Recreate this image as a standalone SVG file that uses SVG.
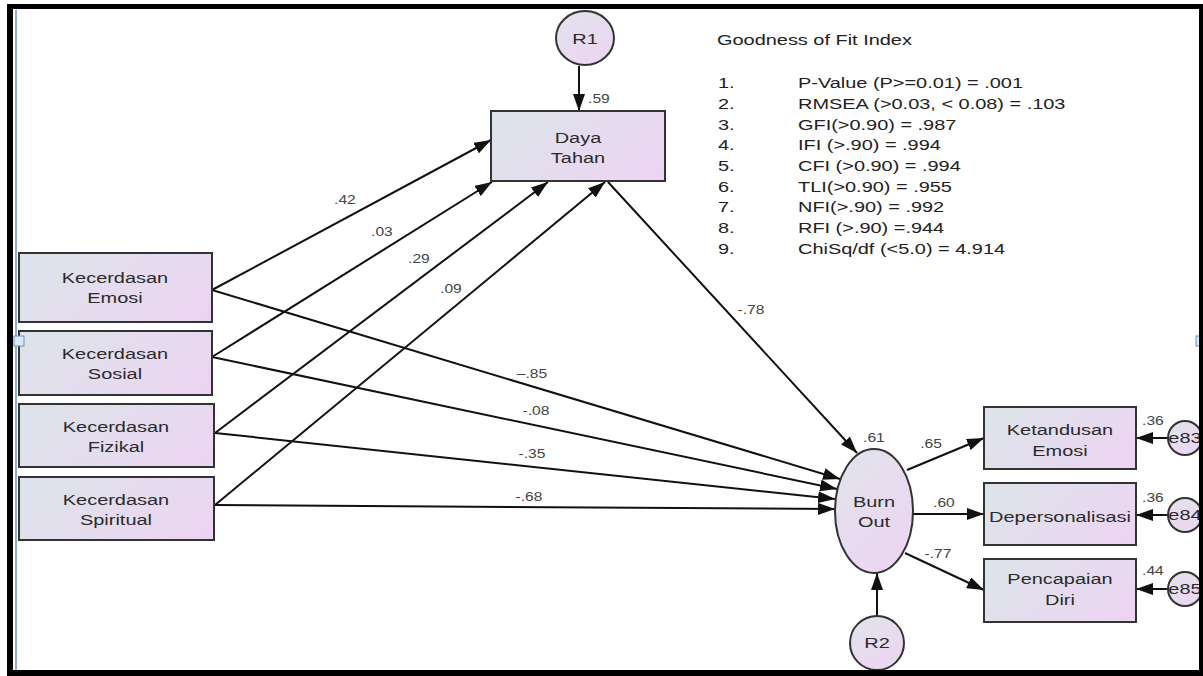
<svg xmlns="http://www.w3.org/2000/svg" width="1203" height="676" viewBox="0 0 1203 676">
  <defs>
    <linearGradient id="gf" x1="0" y1="0.3" x2="1" y2="0.7">
      <stop offset="0" stop-color="#dde3ea"/>
      <stop offset="1" stop-color="#ecd5f2"/>
    </linearGradient>
    <linearGradient id="ge" x1="0.2" y1="0" x2="0.8" y2="1">
      <stop offset="0" stop-color="#e2e2ec"/>
      <stop offset="1" stop-color="#ecd5f2"/>
    </linearGradient>
    <marker id="ah" markerUnits="userSpaceOnUse" markerWidth="18" markerHeight="12" refX="17" refY="6" orient="auto">
      <path d="M0,0 L17,6 L0,12 z" fill="#111"/>
    </marker>
    <style>
      .box { fill: url(#gf); stroke: #333; stroke-width: 2; }
      .ell { fill: url(#ge); stroke: #333; stroke-width: 2; }
      .t { font-family: "Liberation Sans", Arial, sans-serif; font-size: 15px; fill: #2b2b2b; text-anchor: middle; transform: scaleX(1.33); transform-box: fill-box; transform-origin: center; }
      .l { font-family: "Liberation Sans", Arial, sans-serif; font-size: 12px; fill: #444; text-anchor: middle; transform: scaleX(1.3); transform-box: fill-box; transform-origin: center; }
      .g { font-family: "Liberation Sans", Arial, sans-serif; font-size: 15px; fill: #222; transform: scaleX(1.33); transform-box: fill-box; transform-origin: left center; }
      .c line { stroke: #111; stroke-width: 2; marker-end: url(#ah); }
    </style>
  </defs>

  <rect x="0" y="0" width="1203" height="676" fill="#fff"/>

  <g id="connectors" class="c">
    <line x1="579" y1="66" x2="579" y2="111"/>
    <line x1="212" y1="290" x2="491" y2="140"/>
    <line x1="212" y1="357" x2="492" y2="182"/>
    <line x1="215" y1="433" x2="548" y2="182"/>
    <line x1="215" y1="505" x2="605" y2="182"/>
    <line x1="608" y1="182" x2="857" y2="453"/>
    <line x1="212" y1="290" x2="840" y2="479"/>
    <line x1="212" y1="357" x2="837" y2="489"/>
    <line x1="215" y1="433" x2="835" y2="499"/>
    <line x1="215" y1="505" x2="835" y2="509"/>
    <line x1="877" y1="616" x2="877" y2="573"/>
    <line x1="907" y1="470" x2="984" y2="438"/>
    <line x1="913" y1="514" x2="984" y2="514"/>
    <line x1="905" y1="553" x2="984" y2="590"/>
    <line x1="1168" y1="438" x2="1136" y2="438"/>
    <line x1="1168" y1="515" x2="1136" y2="515"/>
    <line x1="1168" y1="589" x2="1136" y2="589"/>
  </g>

  <g id="labels">
    <text class="l" x="345" y="204">.42</text>
    <text class="l" x="382" y="236">.03</text>
    <text class="l" x="419" y="263">.29</text>
    <text class="l" x="451" y="293">.09</text>
    <text class="l" x="751" y="314">-.78</text>
    <text class="l" x="532" y="378">–.85</text>
    <text class="l" x="536" y="415">-.08</text>
    <text class="l" x="532" y="458">-.35</text>
    <text class="l" x="529" y="501">-.68</text>
    <text class="l" x="599" y="103">.59</text>
    <text class="l" x="874" y="442">.61</text>
    <text class="l" x="931" y="448">.65</text>
    <text class="l" x="944" y="507">.60</text>
    <text class="l" x="938" y="558">-.77</text>
    <text class="l" x="1153" y="425">.36</text>
    <text class="l" x="1153" y="502">.36</text>
    <text class="l" x="1153" y="575">.44</text>
  </g>

  <g id="R1">
    <ellipse class="ell" cx="585" cy="38" rx="29" ry="27"/>
    <text class="t" x="585" y="44">R1</text>
  </g>
  <g id="DayaTahan">
    <rect class="box" x="491" y="111" width="174" height="70"/>
    <text class="t" x="578" y="143">Daya</text>
    <text class="t" x="578" y="163">Tahan</text>
  </g>
  <g id="KecerdasanEmosi">
    <rect class="box" x="19" y="253" width="193" height="69"/>
    <text class="t" x="115" y="283">Kecerdasan</text>
    <text class="t" x="115" y="303">Emosi</text>
  </g>
  <g id="KecerdasanSosial">
    <rect class="box" x="19" y="331" width="193" height="64"/>
    <text class="t" x="115" y="359">Kecerdasan</text>
    <text class="t" x="115" y="379">Sosial</text>
  </g>
  <g id="KecerdasanFizikal">
    <rect class="box" x="19" y="404" width="195" height="63"/>
    <text class="t" x="116" y="432">Kecerdasan</text>
    <text class="t" x="116" y="452">Fizikal</text>
  </g>
  <g id="KecerdasanSpiritual">
    <rect class="box" x="19" y="477" width="195" height="63"/>
    <text class="t" x="116" y="505">Kecerdasan</text>
    <text class="t" x="116" y="525">Spiritual</text>
  </g>
  <g id="BurnOut">
    <ellipse class="ell" cx="874" cy="511" rx="39" ry="62"/>
    <text class="t" x="874" y="507">Burn</text>
    <text class="t" x="874" y="527">Out</text>
  </g>
  <g id="R2">
    <ellipse class="ell" cx="877" cy="643" rx="27" ry="27"/>
    <text class="t" x="877" y="648">R2</text>
  </g>
  <g id="KetandusanEmosi">
    <rect class="box" x="984" y="407" width="152" height="62"/>
    <text class="t" x="1060" y="435">Ketandusan</text>
    <text class="t" x="1060" y="456">Emosi</text>
  </g>
  <g id="Depersonalisasi">
    <rect class="box" x="984" y="483" width="152" height="62"/>
    <text class="t" x="1060" y="522">Depersonalisasi</text>
  </g>
  <g id="PencapaianDiri">
    <rect class="box" x="984" y="559" width="152" height="63"/>
    <text class="t" x="1060" y="584">Pencapaian</text>
    <text class="t" x="1060" y="605">Diri</text>
  </g>
  <g id="e83">
    <circle class="ell" cx="1185" cy="438" r="17"/>
    <text class="t" x="1185" y="443">e83</text>
  </g>
  <g id="e84">
    <circle class="ell" cx="1185" cy="515" r="17"/>
    <text class="t" x="1185" y="520">e84</text>
  </g>
  <g id="e85">
    <circle class="ell" cx="1185" cy="589" r="17"/>
    <text class="t" x="1185" y="594">e85</text>
  </g>

  <g id="legend">
    <text class="g" x="717" y="45">Goodness of Fit Index</text>
    <text class="g" x="718" y="88">1.</text>
    <text class="g" x="798" y="88">P-Value (P&gt;=0.01) = .001</text>
    <text class="g" x="718" y="109">2.</text>
    <text class="g" x="798" y="109">RMSEA (&gt;0.03, &lt; 0.08) = .103</text>
    <text class="g" x="718" y="130">3.</text>
    <text class="g" x="798" y="130">GFI(&gt;0.90) = .987</text>
    <text class="g" x="718" y="150">4.</text>
    <text class="g" x="798" y="150">IFI (&gt;.90) = .994</text>
    <text class="g" x="718" y="171">5.</text>
    <text class="g" x="798" y="171">CFI (&gt;0.90) = .994</text>
    <text class="g" x="718" y="192">6.</text>
    <text class="g" x="798" y="192">TLI(&gt;0.90) = .955</text>
    <text class="g" x="718" y="212">7.</text>
    <text class="g" x="798" y="212">NFI(&gt;.90) = .992</text>
    <text class="g" x="718" y="233">8.</text>
    <text class="g" x="798" y="233">RFI (&gt;.90) =.944</text>
    <text class="g" x="718" y="254">9.</text>
    <text class="g" x="798" y="254">ChiSq/df (&lt;5.0) = 4.914</text>
  </g>

  <g id="frame">
    <line x1="16" y1="10" x2="16" y2="670" stroke="#6a8fc0" stroke-width="1.5"/>
    <rect x="14" y="336" width="10" height="10" fill="#dbe8f5" stroke="#6a8fc0" stroke-width="1"/>
    <rect x="1196" y="336" width="6" height="10" fill="#dbe8f5" stroke="#6a8fc0" stroke-width="1"/>
    <rect x="7" y="4" width="1196" height="5" fill="#000"/>
    <rect x="7" y="4" width="6" height="672" fill="#000"/>
    <rect x="7" y="670" width="1196" height="6" fill="#000"/>
    <rect x="1199" y="4" width="4" height="672" fill="#000"/>
  </g>
</svg>
